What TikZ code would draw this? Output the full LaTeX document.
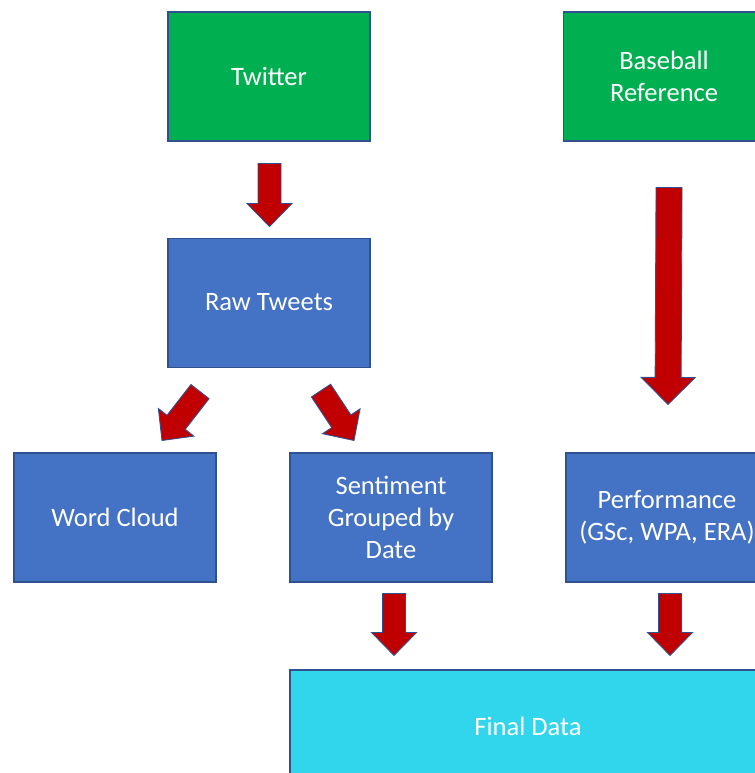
\documentclass[tikz,border=0pt]{standalone}
\usepackage{fontspec}
\setmainfont{Carlito}
\usepackage{tikz}
\usetikzlibrary{calc,positioning}

\definecolor{boxgreen}{RGB}{0,176,80}
\definecolor{boxblue}{RGB}{68,114,196}
\definecolor{boxcyan}{RGB}{50,214,236}
\definecolor{boxedge}{RGB}{47,82,143}
\definecolor{arrowred}{RGB}{192,0,0}

\tikzset{
    box/.style={draw=boxedge,line width=0.6pt,text=white,align=center,
        minimum width=4.04cm,minimum height=2.58cm,inner sep=0pt,
        font=\fontsize{15.1}{18.2}\selectfont},
    blockarrow/.style n args={3}{fill=arrowred,draw=boxedge,line width=0.5pt,line join=miter,
        to path={
            ($(\tikztostart)!#1!90:(\tikztotarget)$)
            -- ($($(\tikztotarget)!#3!(\tikztostart)$)!#1!90:(\tikztotarget)$)
            -- ($($(\tikztotarget)!#3!(\tikztostart)$)!#2!90:(\tikztotarget)$)
            -- (\tikztotarget)
            -- ($($(\tikztotarget)!#3!(\tikztostart)$)!#2!-90:(\tikztotarget)$)
            -- ($($(\tikztotarget)!#3!(\tikztostart)$)!#1!-90:(\tikztotarget)$)
            -- ($(\tikztostart)!#1!-90:(\tikztotarget)$)
            -- cycle}},
    arrowstd/.style={blockarrow={0.23cm}{0.45cm}{0.46cm}},
    arrowbig/.style={blockarrow={0.26cm}{0.54cm}{0.54cm}}
}

\begin{document}
\begin{tikzpicture}[
        node distance=1.92cm
    ]
    \path[use as bounding box,clip] (0,0) rectangle (15.1,-15.46);

    % sources
    \node (tw) [box,fill=boxgreen] at (5.38,-1.53) {Twitter};
    \node (bb) [box,fill=boxgreen,right=3.84cm of tw] {Baseball\\Reference};

    % processing
    \node (raw)  [box,fill=boxblue,below=of tw]       {Raw Tweets};
    \node (wc)   [box,fill=boxblue] at (2.30,-10.35)  {Word Cloud};
    \node (sent) [box,fill=boxblue] at (7.82,-10.35)  {Sentiment\\Grouped by\\Date};
    \node (perf) [box,fill=boxblue] at (13.34,-10.35) {Performance\\(GSc, WPA, ERA)};

    % result
    \node (fin) [box,fill=boxcyan,minimum width=9.52cm,minimum height=2.24cm] at (10.56,-14.52) {Final Data};

    % arrow ends
    \coordinate (a1s) at ($(tw.south)+(0.01,-0.44)$);
    \coordinate (a1e) at ($(raw.north)+(0.01,0.22)$);
    \coordinate (a2s) at ($(bb.south)+(0.10,-0.92)$);
    \coordinate (a2e) at ($(perf.north)+(0.02,0.96)$);
    \coordinate (a3s) at ($(raw.south)+(-1.38,-0.48)$);
    \coordinate (a3e) at ($(wc.north)+(0.94,0.24)$);
    \coordinate (a4s) at ($(raw.south)+(1.04,-0.46)$);
    \coordinate (a4e) at ($(sent.north)+(-0.74,0.24)$);
    \coordinate (a5s) at ($(sent.south)+(0.06,-0.22)$);
    \coordinate (a5e) at ($(sent.south |- fin.north)+(0.06,0.28)$);
    \coordinate (a6s) at ($(perf.south)+(0.06,-0.22)$);
    \coordinate (a6e) at ($(perf.south |- fin.north)+(0.06,0.28)$);

    \draw[arrowstd] (a1s) to (a1e);
    \draw[arrowbig] (a2s) to (a2e);
    \draw[arrowstd] (a3s) to (a3e);
    \draw[arrowstd] (a4s) to (a4e);
    \draw[arrowstd] (a5s) to (a5e);
    \draw[arrowstd] (a6s) to (a6e);
\end{tikzpicture}
\end{document}
